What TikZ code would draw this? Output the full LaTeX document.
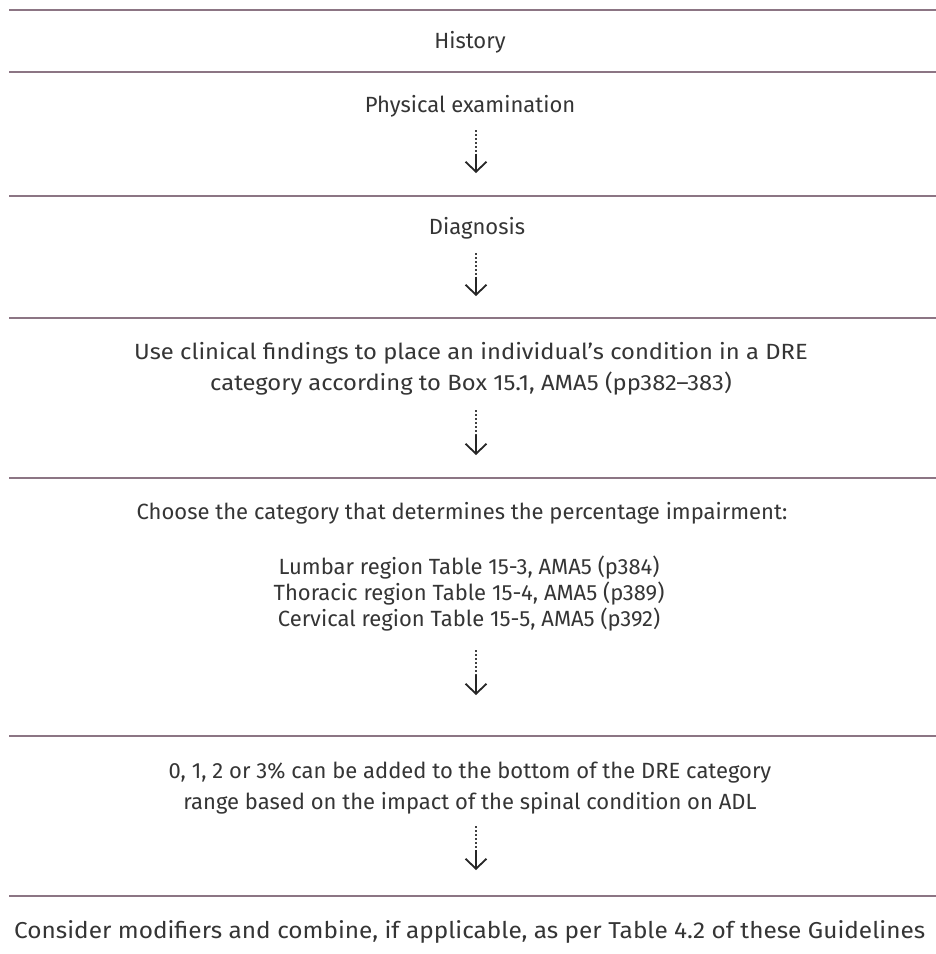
\documentclass[tikz,border=0pt]{standalone}
\usepackage{fontspec}
\setmainfont{Fira Sans}
\usetikzlibrary{arrows.meta,calc}
\definecolor{rulec}{HTML}{8C7584}
\definecolor{txtc}{HTML}{353535}
\begin{document}
\begin{tikzpicture}[x=1pt,y=-1pt,
  rulel/.style={draw=rulec,line width=2pt},
  lbl/.style={inner sep=0pt,text=txtc,font=\fontsize{22}{31.5}\selectfont,align=center,anchor=center},
  stemdot/.style={draw=black!75,line width=1.4pt,dash pattern=on 2pt off 2pt},
  stemtip/.style={draw=black!85,line width=1.6pt,-{Straight Barb[length=10pt,width=21pt,line width=1.8pt]}}]
\useasboundingbox (0,0) rectangle (936,954);
\fill[white] (0,0) rectangle (936,954);
\foreach \yy in {10,72,196,318,478,736,896}{\draw[rulel] (9,\yy) -- (936,\yy);}
\node[lbl] (hist) at (470,42) {History};
\node[lbl] (phys) at (470,106) {Physical examination};
\node[lbl] (diag) at (477,228) {Diagnosis};
\node[lbl] (clin) at (471,369) {\scalebox{1.08}[1]{Use clinical findings to place an individual’s condition in a DRE}\\\scalebox{1.08}[1]{category according to Box 15.1, AMA5 (pp382–383)}};
\node[lbl] (choose) at (462,513) {Choose the category that determines the percentage impairment:};
\node[lbl,font=\fontsize{22}{26}\selectfont] (regions) at (469,594) {Lumbar region Table 15-3, AMA5 (p384)\\Thoracic region Table 15-4, AMA5 (p389)\\Cervical region Table 15-5, AMA5 (p392)};
\node[lbl] (adl) at (470,788) {0, 1, 2 or 3\% can be added to the bottom of the DRE category\\range based on the impact of the spinal condition on ADL};
\node[lbl,anchor=west,font=\fontsize{23}{28}\selectfont] (cons) at (14,932) {\scalebox{1.06}[1]{Consider modifiers and combine, if applicable, as per Table 4.2 of these Guidelines}};
\coordinate (a1s) at (476,130); \coordinate (a1e) at (476,173);
\coordinate (a2s) at (476,253); \coordinate (a2e) at (476,296);
\coordinate (a3s) at (476,410); \coordinate (a3e) at (476,455);
\coordinate (a4s) at (476,650); \coordinate (a4e) at (476,695);
\coordinate (a5s) at (476,826); \coordinate (a5e) at (476,870);
\foreach \k in {1,...,5}{
  \draw[stemdot] (a\k s) -- ($(a\k s)!0.55!(a\k e)$);
  \draw[stemtip] ($(a\k s)!0.55!(a\k e)$) -- (a\k e);}
\end{tikzpicture}
\end{document}
